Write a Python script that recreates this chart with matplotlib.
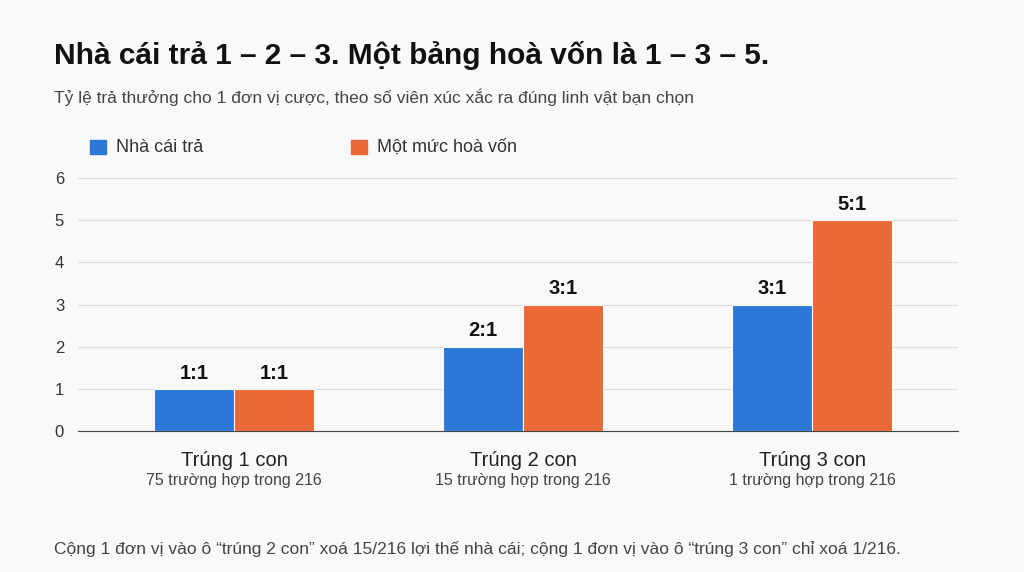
import matplotlib
matplotlib.use("Agg")
import matplotlib.pyplot as plt
import numpy as np

plt.rcParams['font.family'] = ['Liberation Sans', 'DejaVu Sans']

categories = ["Trúng 1 con", "Trúng 2 con", "Trúng 3 con"]
subcats = ["75 trường hợp trong 216", "15 trường hợp trong 216", "1 trường hợp trong 216"]
house_pays = [1, 2, 3]
break_even = [1, 3, 5]
house_labels = ["1:1", "2:1", "3:1"]
even_labels = ["1:1", "3:1", "5:1"]

bg = "#f9f9f9"
blue = "#2b78d8"
orange = "#ea6936"

fig = plt.figure(figsize=(10.24, 5.72), dpi=100, facecolor=bg)
ax = fig.add_axes([78/1024, 1-431/572, 880/1024, 253/572], facecolor=bg)

x = np.arange(len(categories))
w = 0.277
b1 = ax.bar(x - w/2, house_pays, w, color=blue, edgecolor=bg, linewidth=0.8, zorder=3)
b2 = ax.bar(x + w/2, break_even, w, color=orange, edgecolor=bg, linewidth=0.8, zorder=3)
for bars, labs in ((b1, house_labels), (b2, even_labels)):
    for r, l in zip(bars, labs):
        ax.text(r.get_x() + r.get_width()/2, r.get_height() + 0.15, l,
                ha='center', va='bottom', fontsize=14.5, fontweight='bold', color='#111111')

ax.set_xlim(-0.54, 2.505)
ax.set_ylim(0, 6)
ax.set_yticks(range(7))
ax.tick_params(axis='y', length=0, labelsize=12, labelcolor='#333333', pad=10)
ax.set_xticks([])
ax.grid(axis='y', color='#dddddd', linewidth=0.8, zorder=0)
for s in ('top', 'right', 'left'):
    ax.spines[s].set_visible(False)
ax.spines['bottom'].set_color('#444444')

for i, (c, s) in enumerate(zip(categories, subcats)):
    ax.text(i, -0.48, c, ha='center', va='top', fontsize=14.5, color='#222222')
    ax.text(i, -1.0, s, ha='center', va='top', fontsize=11.5, color='#444444')

fig.text(54/1024, 1-56/572, "Nhà cái trả 1 – 2 – 3. Một bảng hoà vốn là 1 – 3 – 5.",
         fontsize=21.5, fontweight='bold', color='#111111', va='center')
fig.text(54/1024, 1-97/572, "Tỷ lệ trả thưởng cho 1 đơn vị cược, theo số viên xúc xắc ra đúng linh vật bạn chọn",
         fontsize=12.5, color='#444444', va='center')

fig.patches.append(plt.Rectangle((90/1024, 1-154/572), 16/1024, 14/572, color=blue,
                                 transform=fig.transFigure, figure=fig))
fig.text(116/1024, 1-147/572, "Nhà cái trả", fontsize=13, color='#333333', va='center')
fig.patches.append(plt.Rectangle((351/1024, 1-154/572), 16/1024, 14/572, color=orange,
                                 transform=fig.transFigure, figure=fig))
fig.text(377/1024, 1-147/572, "Một mức hoà vốn", fontsize=13, color='#333333', va='center')

fig.text(54/1024, 1-549/572,
         "Cộng 1 đơn vị vào ô “trúng 2 con” xoá 15/216 lợi thế nhà cái; cộng 1 đơn vị vào ô “trúng 3 con” chỉ xoá 1/216.",
         fontsize=12.5, color='#444444', va='center')

fig.savefig("out.png", dpi=100, facecolor=bg)
